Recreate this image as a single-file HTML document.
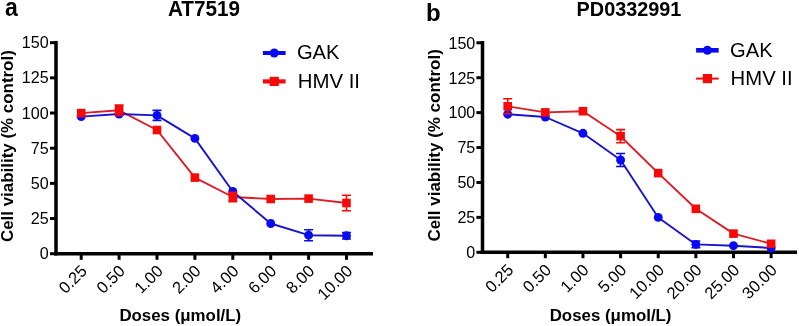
<!DOCTYPE html><html><head><meta charset="utf-8"><style>html,body{margin:0;padding:0;background:#fff;}svg{display:block;will-change:transform;}text{font-family:"Liberation Sans", sans-serif;fill:#000;}</style></head><body>
<svg width="799" height="326" viewBox="0 0 799 326">
<rect width="799" height="326" fill="#fff"/>
<line x1="56" y1="40.94" x2="56" y2="255.45" stroke="#000" stroke-width="3.5"/>
<line x1="54.25" y1="253.7" x2="373" y2="253.7" stroke="#000" stroke-width="3.5"/>
<line x1="50.0" y1="253.70" x2="56" y2="253.70" stroke="#000" stroke-width="3"/>
<text x="48.7" y="259.20" text-anchor="end" font-size="16.1">0</text>
<line x1="50.0" y1="218.53" x2="56" y2="218.53" stroke="#000" stroke-width="3"/>
<text x="48.7" y="224.03" text-anchor="end" font-size="16.1">25</text>
<line x1="50.0" y1="183.36" x2="56" y2="183.36" stroke="#000" stroke-width="3"/>
<text x="48.7" y="188.86" text-anchor="end" font-size="16.1">50</text>
<line x1="50.0" y1="148.20" x2="56" y2="148.20" stroke="#000" stroke-width="3"/>
<text x="48.7" y="153.70" text-anchor="end" font-size="16.1">75</text>
<line x1="50.0" y1="113.03" x2="56" y2="113.03" stroke="#000" stroke-width="3"/>
<text x="48.7" y="118.53" text-anchor="end" font-size="16.1">100</text>
<line x1="50.0" y1="77.86" x2="56" y2="77.86" stroke="#000" stroke-width="3"/>
<text x="48.7" y="83.36" text-anchor="end" font-size="16.1">125</text>
<line x1="50.0" y1="42.69" x2="56" y2="42.69" stroke="#000" stroke-width="3"/>
<text x="48.7" y="48.19" text-anchor="end" font-size="16.1">150</text>
<line x1="81.20" y1="253.7" x2="81.20" y2="259.8" stroke="#000" stroke-width="3"/>
<text transform="translate(88.10,271.90) rotate(-45)" text-anchor="end" font-size="16.5">0.25</text>
<line x1="119.10" y1="253.7" x2="119.10" y2="259.8" stroke="#000" stroke-width="3"/>
<text transform="translate(126.00,271.90) rotate(-45)" text-anchor="end" font-size="16.5">0.50</text>
<line x1="157.00" y1="253.7" x2="157.00" y2="259.8" stroke="#000" stroke-width="3"/>
<text transform="translate(163.90,271.90) rotate(-45)" text-anchor="end" font-size="16.5">1.00</text>
<line x1="194.90" y1="253.7" x2="194.90" y2="259.8" stroke="#000" stroke-width="3"/>
<text transform="translate(201.80,271.90) rotate(-45)" text-anchor="end" font-size="16.5">2.00</text>
<line x1="232.80" y1="253.7" x2="232.80" y2="259.8" stroke="#000" stroke-width="3"/>
<text transform="translate(239.70,271.90) rotate(-45)" text-anchor="end" font-size="16.5">4.00</text>
<line x1="270.70" y1="253.7" x2="270.70" y2="259.8" stroke="#000" stroke-width="3"/>
<text transform="translate(277.60,271.90) rotate(-45)" text-anchor="end" font-size="16.5">6.00</text>
<line x1="308.60" y1="253.7" x2="308.60" y2="259.8" stroke="#000" stroke-width="3"/>
<text transform="translate(315.50,271.90) rotate(-45)" text-anchor="end" font-size="16.5">8.00</text>
<line x1="346.50" y1="253.7" x2="346.50" y2="259.8" stroke="#000" stroke-width="3"/>
<text transform="translate(353.40,271.90) rotate(-45)" text-anchor="end" font-size="16.5">10.00</text>
<polyline points="81.20,113.10 119.10,110.30 157.00,130.00 194.90,177.60 232.80,197.00 270.70,199.00 308.60,198.60 346.50,203.00" fill="none" stroke="#dc1c26" stroke-width="1.9" stroke-linejoin="round"/>
<polyline points="81.20,116.60 119.10,114.00 157.00,115.40 194.90,138.40 232.80,191.50 270.70,223.50 308.60,235.20 346.50,235.80" fill="none" stroke="#1a14cc" stroke-width="1.9" stroke-linejoin="round"/>
<circle cx="81.20" cy="116.60" r="4.45" fill="#0a0af2"/>
<circle cx="119.10" cy="114.00" r="4.45" fill="#0a0af2"/>
<path d="M157.00 110.40V120.40M152.50 110.40H161.50M152.50 120.40H161.50" stroke="#0a0af2" stroke-width="1.6" fill="none"/>
<circle cx="157.00" cy="115.40" r="4.45" fill="#0a0af2"/>
<circle cx="194.90" cy="138.40" r="4.45" fill="#0a0af2"/>
<circle cx="232.80" cy="191.50" r="4.45" fill="#0a0af2"/>
<circle cx="270.70" cy="223.50" r="4.45" fill="#0a0af2"/>
<path d="M308.60 229.70V240.70M304.10 229.70H313.10M304.10 240.70H313.10" stroke="#0a0af2" stroke-width="1.6" fill="none"/>
<circle cx="308.60" cy="235.20" r="4.45" fill="#0a0af2"/>
<path d="M346.50 232.60V239.00M342.00 232.60H351.00M342.00 239.00H351.00" stroke="#0a0af2" stroke-width="1.6" fill="none"/>
<circle cx="346.50" cy="235.80" r="4.45" fill="#0a0af2"/>
<rect x="76.90" y="108.80" width="8.6" height="8.6" fill="#f50a0a"/>
<path d="M119.10 105.10V115.50M114.60 105.10H123.60M114.60 115.50H123.60" stroke="#f50a0a" stroke-width="1.6" fill="none"/>
<rect x="114.80" y="106.00" width="8.6" height="8.6" fill="#f50a0a"/>
<rect x="152.70" y="125.70" width="8.6" height="8.6" fill="#f50a0a"/>
<rect x="190.60" y="173.30" width="8.6" height="8.6" fill="#f50a0a"/>
<path d="M232.80 192.40V201.60M228.30 192.40H237.30M228.30 201.60H237.30" stroke="#f50a0a" stroke-width="1.6" fill="none"/>
<rect x="228.50" y="192.70" width="8.6" height="8.6" fill="#f50a0a"/>
<rect x="266.40" y="194.70" width="8.6" height="8.6" fill="#f50a0a"/>
<rect x="304.30" y="194.30" width="8.6" height="8.6" fill="#f50a0a"/>
<path d="M346.50 195.20V210.80M342.00 195.20H351.00M342.00 210.80H351.00" stroke="#f50a0a" stroke-width="1.6" fill="none"/>
<rect x="342.20" y="198.70" width="8.6" height="8.6" fill="#f50a0a"/>
<line x1="482.5" y1="41.05" x2="482.5" y2="254.05" stroke="#000" stroke-width="3.5"/>
<line x1="480.75" y1="252.3" x2="797" y2="252.3" stroke="#000" stroke-width="3.5"/>
<line x1="476.4" y1="252.30" x2="482.5" y2="252.30" stroke="#000" stroke-width="3"/>
<text x="475.3" y="258.10" text-anchor="end" font-size="16.1">0</text>
<line x1="476.4" y1="217.38" x2="482.5" y2="217.38" stroke="#000" stroke-width="3"/>
<text x="475.3" y="223.18" text-anchor="end" font-size="16.1">25</text>
<line x1="476.4" y1="182.47" x2="482.5" y2="182.47" stroke="#000" stroke-width="3"/>
<text x="475.3" y="188.27" text-anchor="end" font-size="16.1">50</text>
<line x1="476.4" y1="147.55" x2="482.5" y2="147.55" stroke="#000" stroke-width="3"/>
<text x="475.3" y="153.35" text-anchor="end" font-size="16.1">75</text>
<line x1="476.4" y1="112.63" x2="482.5" y2="112.63" stroke="#000" stroke-width="3"/>
<text x="475.3" y="118.43" text-anchor="end" font-size="16.1">100</text>
<line x1="476.4" y1="77.71" x2="482.5" y2="77.71" stroke="#000" stroke-width="3"/>
<text x="475.3" y="83.51" text-anchor="end" font-size="16.1">125</text>
<line x1="476.4" y1="42.80" x2="482.5" y2="42.80" stroke="#000" stroke-width="3"/>
<text x="475.3" y="48.60" text-anchor="end" font-size="16.1">150</text>
<line x1="507.70" y1="252.3" x2="507.70" y2="258.2" stroke="#000" stroke-width="3"/>
<text transform="translate(514.60,270.90) rotate(-45)" text-anchor="end" font-size="16.5">0.25</text>
<line x1="545.33" y1="252.3" x2="545.33" y2="258.2" stroke="#000" stroke-width="3"/>
<text transform="translate(552.23,270.90) rotate(-45)" text-anchor="end" font-size="16.5">0.50</text>
<line x1="582.96" y1="252.3" x2="582.96" y2="258.2" stroke="#000" stroke-width="3"/>
<text transform="translate(589.86,270.90) rotate(-45)" text-anchor="end" font-size="16.5">1.00</text>
<line x1="620.59" y1="252.3" x2="620.59" y2="258.2" stroke="#000" stroke-width="3"/>
<text transform="translate(627.49,270.90) rotate(-45)" text-anchor="end" font-size="16.5">5.00</text>
<line x1="658.22" y1="252.3" x2="658.22" y2="258.2" stroke="#000" stroke-width="3"/>
<text transform="translate(665.12,270.90) rotate(-45)" text-anchor="end" font-size="16.5">10.00</text>
<line x1="695.85" y1="252.3" x2="695.85" y2="258.2" stroke="#000" stroke-width="3"/>
<text transform="translate(702.75,270.90) rotate(-45)" text-anchor="end" font-size="16.5">20.00</text>
<line x1="733.48" y1="252.3" x2="733.48" y2="258.2" stroke="#000" stroke-width="3"/>
<text transform="translate(740.38,270.90) rotate(-45)" text-anchor="end" font-size="16.5">25.00</text>
<line x1="771.11" y1="252.3" x2="771.11" y2="258.2" stroke="#000" stroke-width="3"/>
<text transform="translate(778.01,270.90) rotate(-45)" text-anchor="end" font-size="16.5">30.00</text>
<polyline points="507.70,106.30 545.33,112.40 582.96,111.20 620.59,136.20 658.22,173.10 695.85,208.80 733.48,233.60 771.11,243.80" fill="none" stroke="#dc1c26" stroke-width="1.9" stroke-linejoin="round"/>
<polyline points="507.70,114.20 545.33,117.00 582.96,133.30 620.59,160.00 658.22,217.40 695.85,244.40 733.48,245.70 771.11,248.00" fill="none" stroke="#1a14cc" stroke-width="1.9" stroke-linejoin="round"/>
<circle cx="507.70" cy="114.20" r="4.45" fill="#0a0af2"/>
<circle cx="545.33" cy="117.00" r="4.45" fill="#0a0af2"/>
<circle cx="582.96" cy="133.30" r="4.45" fill="#0a0af2"/>
<path d="M620.59 153.50V166.50M616.09 153.50H625.09M616.09 166.50H625.09" stroke="#0a0af2" stroke-width="1.6" fill="none"/>
<circle cx="620.59" cy="160.00" r="4.45" fill="#0a0af2"/>
<circle cx="658.22" cy="217.40" r="4.45" fill="#0a0af2"/>
<path d="M695.85 241.00V247.80M691.35 241.00H700.35M691.35 247.80H700.35" stroke="#0a0af2" stroke-width="1.6" fill="none"/>
<circle cx="695.85" cy="244.40" r="4.45" fill="#0a0af2"/>
<circle cx="733.48" cy="245.70" r="4.45" fill="#0a0af2"/>
<circle cx="771.11" cy="248.00" r="4.45" fill="#0a0af2"/>
<path d="M507.70 98.80V113.80M503.20 98.80H512.20M503.20 113.80H512.20" stroke="#f50a0a" stroke-width="1.6" fill="none"/>
<rect x="503.40" y="102.00" width="8.6" height="8.6" fill="#f50a0a"/>
<rect x="541.03" y="108.10" width="8.6" height="8.6" fill="#f50a0a"/>
<rect x="578.66" y="106.90" width="8.6" height="8.6" fill="#f50a0a"/>
<path d="M620.59 129.60V142.80M616.09 129.60H625.09M616.09 142.80H625.09" stroke="#f50a0a" stroke-width="1.6" fill="none"/>
<rect x="616.29" y="131.90" width="8.6" height="8.6" fill="#f50a0a"/>
<rect x="653.92" y="168.80" width="8.6" height="8.6" fill="#f50a0a"/>
<rect x="691.55" y="204.50" width="8.6" height="8.6" fill="#f50a0a"/>
<rect x="729.18" y="229.30" width="8.6" height="8.6" fill="#f50a0a"/>
<rect x="766.81" y="239.50" width="8.6" height="8.6" fill="#f50a0a"/>
<text x="5.1" y="16.4" font-size="25" font-weight="bold" textLength="12.8" lengthAdjust="spacingAndGlyphs">a</text>
<text x="425.9" y="20.5" font-size="24" font-weight="bold">b</text>
<text x="167.9" y="15.8" font-size="21.3" font-weight="bold" textLength="72.1" lengthAdjust="spacingAndGlyphs">AT7519</text>
<text x="576.6" y="16.1" font-size="20.7" font-weight="bold" textLength="104.8" lengthAdjust="spacingAndGlyphs">PD0332991</text>
<text transform="translate(13.4,242.1) rotate(-90)" font-size="17.28" font-weight="bold" textLength="191.9" lengthAdjust="spacingAndGlyphs">Cell viability (% control)</text>
<text transform="translate(440.4,241.6) rotate(-90)" font-size="17.28" font-weight="bold" textLength="192.4" lengthAdjust="spacingAndGlyphs">Cell viability (% control)</text>
<text x="119.4" y="320.9" font-size="17.28" font-weight="bold" textLength="121.8" lengthAdjust="spacingAndGlyphs">Doses (μmol/L)</text>
<text x="549.7" y="320.9" font-size="17.28" font-weight="bold" textLength="121.8" lengthAdjust="spacingAndGlyphs">Doses (μmol/L)</text>
<line x1="262.9" y1="53" x2="285.6" y2="53" stroke="#0a0af2" stroke-width="4"/>
<circle cx="274.25" cy="53" r="4.5" fill="#0a0af2"/>
<line x1="262.9" y1="81.4" x2="285.6" y2="81.4" stroke="#f50a0a" stroke-width="4.2"/>
<rect x="269.65" y="76.80000000000001" width="9.2" height="9.2" fill="#f50a0a"/>
<text x="296.9" y="58.8" font-size="20.5" textLength="42.56" lengthAdjust="spacingAndGlyphs">GAK</text>
<text x="297.7" y="88" font-size="20.4" textLength="62.36" lengthAdjust="spacingAndGlyphs">HMV II</text>
<line x1="696.1" y1="50.3" x2="718.7" y2="50.3" stroke="#0a0af2" stroke-width="4.6"/>
<circle cx="707.4000000000001" cy="50.3" r="4.5" fill="#0a0af2"/>
<line x1="696.1" y1="78.6" x2="718.7" y2="78.6" stroke="#f50a0a" stroke-width="2"/>
<rect x="702.8000000000001" y="74.0" width="9.2" height="9.2" fill="#f50a0a"/>
<text x="730.1" y="56.9" font-size="20" textLength="42.55" lengthAdjust="spacingAndGlyphs">GAK</text>
<text x="730.6" y="84.9" font-size="19.5" textLength="61.98" lengthAdjust="spacingAndGlyphs">HMV II</text>
</svg></body></html>
